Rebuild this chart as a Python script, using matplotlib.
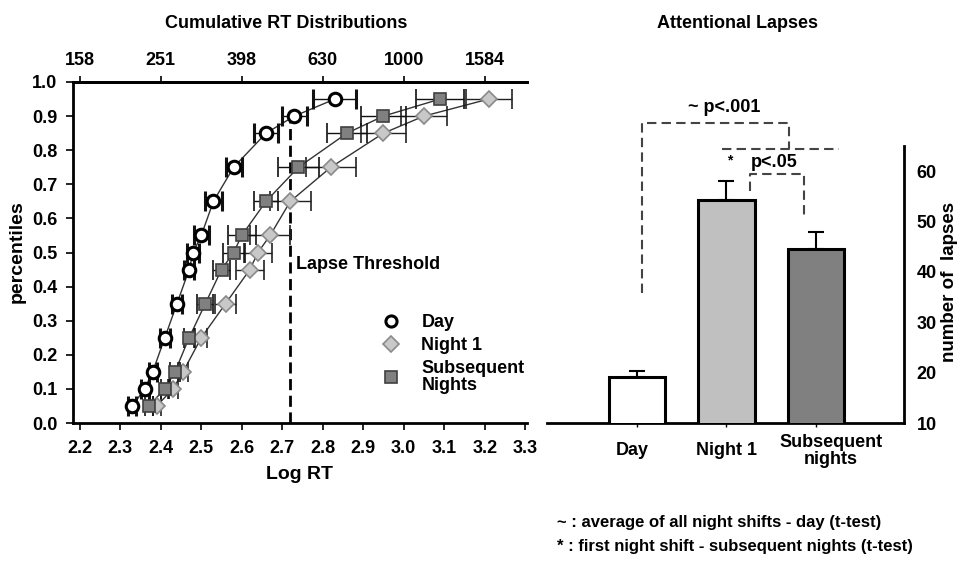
import matplotlib
matplotlib.use("Agg")
import matplotlib.pyplot as plt
from matplotlib.lines import Line2D
import matplotlib.transforms as mtransforms

plt.rcParams['font.family'] = ['Liberation Sans', 'DejaVu Sans']
plt.rcParams['font.weight'] = 'bold'

# ---------------- data: cumulative RT distributions ----------------
percentiles = [0.05, 0.10, 0.15, 0.25, 0.35, 0.45, 0.50, 0.55, 0.65, 0.75, 0.85, 0.90, 0.95]
day_logrt = [2.33, 2.36, 2.38, 2.41, 2.44, 2.47, 2.48, 2.50, 2.53, 2.58, 2.66, 2.73, 2.83]
day_err = [0.010, 0.010, 0.010, 0.012, 0.012, 0.013, 0.015, 0.018, 0.020, 0.020, 0.030, 0.030, 0.053]
night1_logrt = [2.39, 2.43, 2.455, 2.50, 2.56, 2.62, 2.64, 2.67, 2.72, 2.82, 2.95, 3.05, 3.21]
night1_err = [0.010, 0.012, 0.012, 0.015, 0.025, 0.035, 0.035, 0.050, 0.050, 0.062, 0.055, 0.057, 0.057]
subseq_logrt = [2.37, 2.41, 2.435, 2.47, 2.51, 2.55, 2.58, 2.60, 2.66, 2.74, 2.86, 2.95, 3.09]
subseq_err = [0.010, 0.010, 0.012, 0.012, 0.020, 0.022, 0.027, 0.035, 0.030, 0.050, 0.050, 0.055, 0.060]
lapse_threshold = 2.72
top_tick_pos = [2.2, 2.4, 2.6, 2.8, 3.0, 3.2]
top_tick_labels = ['158', '251', '398', '630', '1000', '1584']

# ---------------- data: attentional lapses ----------------
bar_categories = ['Day', 'Night 1', 'Subsequent\nnights']
bar_values = [19.1, 54.2, 44.5]
bar_errors = [1.2, 3.8, 3.4]
bar_colors = ['#ffffff', '#c0c0c0', '#808080']

W, H = 962, 577
fig = plt.figure(figsize=(W/100, H/100), dpi=100)

def fx(px):
    return px / W

def fy(py):
    return 1 - py / H

# ================= left panel =================
L, R, T, B = 72.5, 527, 82, 423
ax = fig.add_axes([fx(L), fy(B), (R-L)/W, (B-T)/H])
ax.set_xlim(2.182, 3.3045)
ax.set_ylim(0, 1.0)

for xs in (day_logrt, night1_logrt, subseq_logrt):
    ax.plot(xs, percentiles, color='#333333', lw=1.0, zorder=2)

ax.errorbar(night1_logrt, percentiles, xerr=night1_err, fmt='D', ms=8.5,
            mfc='#c8c8c8', mec='#8a8a8a', mew=1.2, ecolor='#222222',
            elinewidth=1.0, capsize=7, capthick=1.0, zorder=3)
ax.errorbar(subseq_logrt, percentiles, xerr=subseq_err, fmt='s', ms=8.5,
            mfc='#808080', mec='#404040', mew=1.2, ecolor='#111111',
            elinewidth=1.0, capsize=7, capthick=1.0, zorder=4)
ax.errorbar(day_logrt, percentiles, xerr=day_err, fmt='o', ms=9,
            mfc='white', mec='black', mew=2.2, ecolor='#111111',
            elinewidth=1.0, capsize=7, capthick=1.0, zorder=5)

ax.plot([lapse_threshold, lapse_threshold], [0, 0.9], color='black', lw=2,
        ls=(0, (4, 2)), zorder=1)
ax.text(lapse_threshold + 0.015, 0.466, 'Lapse Threshold', fontsize=13,
        fontweight='bold', va='center', ha='left')

xt = [2.2 + 0.1*i for i in range(12)]
ax.set_xticks(xt)
ax.set_xticklabels([f'{v:.1f}' for v in xt])
ax.set_yticks([0.1*i for i in range(11)])
ax.set_yticklabels([f'{0.1*i:.1f}' for i in range(11)])
ax.tick_params(axis='both', labelsize=13, length=5, width=1.2, direction='out')
ax.tick_params(axis='x', pad=7)
ax.tick_params(axis='y', pad=6)
for s in ax.spines.values():
    s.set_linewidth(2)
    s.set_color('black')
ax.spines['right'].set_visible(False)

top = ax.secondary_xaxis('top')
top.set_xticks(top_tick_pos)
top.set_xticklabels(top_tick_labels)
top.tick_params(labelsize=13, length=4, width=1.2, direction='out', pad=5)
top.spines['top'].set_linewidth(2)

ax.set_xlabel('Log RT', fontsize=14, fontweight='bold', labelpad=7)
fig.text(fx(17), fy(252), 'percentiles', rotation=90, fontsize=14,
         fontweight='bold', ha='center', va='center')

handles = [
    Line2D([], [], marker='o', ls='none', ms=8, mfc='white', mec='black', mew=2.2),
    Line2D([], [], marker='D', ls='none', ms=8.5, mfc='#c8c8c8', mec='#8a8a8a', mew=1.2),
    Line2D([], [], marker='s', ls='none', ms=8.5, mfc='#808080', mec='#404040', mew=1.2),
]
leg = ax.legend(handles, ['Day', 'Night 1', 'Subsequent\nNights'], loc='upper left',
                bbox_to_anchor=((391.7 - 10 - L)/(R - L), (B - 314)/(B - T)),
                frameon=False, fontsize=13,
                handletextpad=1.2, labelspacing=0.33, handlelength=1.0,
                borderaxespad=0, borderpad=0)
for t in leg.get_texts():
    t.set_fontweight('bold')
    t.set_linespacing(1.0)

fig.text(fx(286), fy(24), 'Cumulative RT Distributions', fontsize=13,
         fontweight='bold', ha='center', va='center')

# ================= right panel =================
bx = fig.add_axes([fx(547), fy(423), (904-547)/W, (423-100)/H])
xpos = list(range(len(bar_categories)))
bx.bar(xpos, bar_values, width=0.63, bottom=0, color=bar_colors,
       edgecolor='black', linewidth=2.2, zorder=3)
bx.errorbar(xpos, bar_values, yerr=[[0]*3, bar_errors], fmt='none',
            ecolor='black', elinewidth=1.5, capsize=6, capthick=1.5, zorder=2)
bx.set_xlim(-1.01, 2.99)
bx.set_ylim(10, 10 + 323/5.04)
bx.set_xticks(xpos)
bx.set_xticklabels(bar_categories, fontsize=13, fontweight='bold', linespacing=1.0)
bx.tick_params(axis='x', length=3, width=1, pad=11)
labs = bx.get_xticklabels()
labs[2].set_transform(labs[2].get_transform() +
                      mtransforms.ScaledTranslation(15/100, 8/100, fig.dpi_scale_trans))
labs[0].set_transform(labs[0].get_transform() +
                      mtransforms.ScaledTranslation(-5/100, 0, fig.dpi_scale_trans))
bx.yaxis.tick_right()
bx.set_yticks([10, 20, 30, 40, 50, 60])
bx.tick_params(axis='y', labelsize=13, length=0, pad=9)
fig.text(fx(950), fy(282), 'number of  lapses', rotation=90, fontsize=13.5,
         fontweight='bold', ha='center', va='center')
bx.spines['top'].set_visible(False)
bx.spines['left'].set_visible(False)
bx.spines['right'].set_bounds(10, 65)
bx.spines['right'].set_linewidth(2)
bx.spines['bottom'].set_linewidth(2)

dash = dict(color='#444444', lw=1.5, ls=(0, (4.5, 2.5)), clip_on=False, zorder=1)
# ~ bracket: day vs average of nights
bx.plot([0.05, 0.05, 1.70, 1.70], [35.8, 69.5, 69.5, 64.4], **dash)
bx.plot([0.955, 2.26], [64.4, 64.4], **dash)
bx.text(0.97, 72.6, '~ p<.001', fontsize=13, fontweight='bold', ha='center', va='center')
# * bracket: night 1 vs subsequent
bx.plot([1.26, 1.26, 1.865, 1.865], [56.0, 59.4, 59.4, 50.5], **dash)
bx.text(1.04, 62.0, '*', fontsize=10, fontweight='bold', ha='center', va='center')
bx.text(1.53, 61.6, 'p<.05', fontsize=13, fontweight='bold', ha='center', va='center')

fig.text(fx(738), fy(24), 'Attentional Lapses', fontsize=13,
         fontweight='bold', ha='center', va='center')

fig.text(fx(557), fy(522), '~ : average of all night shifts - day (t-test)',
         fontsize=12, fontweight='bold', ha='left', va='center')
fig.text(fx(557), fy(547), '* : first night shift - subsequent nights (t-test)',
         fontsize=12, fontweight='bold', ha='left', va='center')

fig.savefig('out.png', dpi=100)
